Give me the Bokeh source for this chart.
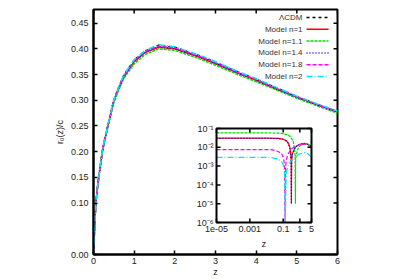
import math
from bokeh.plotting import figure
from bokeh.models import (Range1d, FixedTicker, PrintfTickFormatter, Label, LogScale)
from bokeh.core.properties import value
from bokeh.embed import file_html
from bokeh.resources import INLINE

FONT = "Liberation Sans"
TXT = "#222222"

# ---------------- main panel data ----------------
z_main = [0, 0.03, 0.057, 0.1, 0.15, 0.22, 0.27, 0.35, 0.49, 0.6, 0.74, 1.0, 1.27,
          1.6, 2.0, 2.63, 3.0, 3.61, 4.0, 4.5, 5.0, 5.5, 6.0]
r_lcdm = [0, 0.055, 0.100, 0.132, 0.163, 0.202, 0.222, 0.250, 0.298, 0.322, 0.348, 0.378,
          0.396, 0.407, 0.403, 0.386, 0.374, 0.353, 0.341, 0.324, 0.307, 0.292, 0.278]
r_n1 = [0, 0.055, 0.100, 0.132, 0.162, 0.201, 0.221, 0.248, 0.296, 0.319, 0.345, 0.375,
        0.393, 0.403, 0.400, 0.383, 0.371, 0.351, 0.339, 0.322, 0.306, 0.291, 0.277]
r_n11 = [0, 0.055, 0.100, 0.131, 0.161, 0.200, 0.219, 0.246, 0.293, 0.316, 0.342, 0.371,
         0.389, 0.400, 0.397, 0.380, 0.368, 0.348, 0.336, 0.320, 0.304, 0.289, 0.275]
r_n14 = [0, 0.055, 0.100, 0.132, 0.162, 0.201, 0.221, 0.248, 0.296, 0.320, 0.345, 0.375,
         0.394, 0.404, 0.400, 0.384, 0.372, 0.351, 0.339, 0.322, 0.306, 0.291, 0.277]
r_n18 = [0, 0.055, 0.100, 0.132, 0.163, 0.202, 0.222, 0.249, 0.297, 0.321, 0.347, 0.377,
         0.395, 0.405, 0.402, 0.385, 0.373, 0.352, 0.340, 0.323, 0.307, 0.292, 0.278]
r_n2 = [0, 0.055, 0.100, 0.132, 0.163, 0.202, 0.222, 0.250, 0.298, 0.322, 0.349, 0.379,
        0.397, 0.408, 0.404, 0.387, 0.375, 0.354, 0.342, 0.325, 0.308, 0.293, 0.279]

x_ticks = [0, 1, 2, 3, 4, 5, 6]
y_ticks = [0.0, 0.10, 0.15, 0.20, 0.25, 0.30, 0.35, 0.40, 0.45]

labels = ["\u039bCDM", "Model n=1", "Model n=1.1", "Model n=1.4", "Model n=1.8", "Model n=2"]
colors = ["black", "#ff0000", "#00e000", "#0000ff", "#ff00ff", "#00e8f0"]
dashes = ["3 3", "solid", "3 1", "1 2", "4 2", "6 2 1 2"]

# ---------------- inset data ----------------
z_in_n1 = [1e-5, 1e-4, 1e-3, 0.01, 0.05, 0.1, 0.15, 0.2, 0.25, 0.28, 0.3, 0.31, 0.32, 0.35,
           0.45, 0.6, 1.0, 2.0, 3.0, 5.0]
d_in_n1 = [0.031, 0.031, 0.031, 0.031, 0.030, 0.027, 0.023, 0.017, 0.010, 0.0055, 0.002,
           1e-5, 0.0015, 0.004, 0.0075, 0.011, 0.0145, 0.016, 0.0145, 0.011]
z_in_n11 = [1e-5, 1e-4, 1e-3, 0.01, 0.05, 0.1, 0.2, 0.3, 0.4, 0.48, 0.52, 0.54, 0.56, 0.6,
            0.8, 1.0, 2.0, 3.0, 5.0]
d_in_n11 = [0.058, 0.058, 0.058, 0.058, 0.057, 0.054, 0.045, 0.033, 0.020, 0.009, 0.003,
            1e-5, 0.002, 0.004, 0.009, 0.012, 0.015, 0.0145, 0.0125]
z_in_n14 = [1e-5, 1e-4, 1e-3, 0.01, 0.05, 0.1, 0.15, 0.2, 0.25, 0.28, 0.3, 0.31, 0.32, 0.35,
            0.45, 0.6, 1.0, 2.0, 3.0, 5.0]
d_in_n14 = [0.030, 0.030, 0.030, 0.030, 0.029, 0.026, 0.022, 0.016, 0.0095, 0.005, 0.0018,
            1e-5, 0.0016, 0.0042, 0.0078, 0.0112, 0.0148, 0.0158, 0.0143, 0.0108]
z_in_n18 = [1e-5, 1e-4, 1e-3, 0.01, 0.02, 0.05, 0.08, 0.1, 0.12, 0.13, 0.14, 0.16, 0.2, 0.3,
            0.5, 1.0, 2.0, 3.0, 5.0]
d_in_n18 = [0.0076, 0.0076, 0.0076, 0.0076, 0.0075, 0.006, 0.0045, 0.003, 0.0013, 1e-6,
            0.001, 0.0025, 0.0045, 0.008, 0.011, 0.014, 0.015, 0.0135, 0.0105]
z_in_n2 = [1e-5, 1e-4, 1e-3, 0.01, 0.02, 0.05, 0.08, 0.1, 0.12, 0.135, 0.15, 0.2, 0.3, 0.5,
           1.0, 2.0, 3.0, 5.0]
d_in_n2 = [0.0029, 0.0029, 0.0029, 0.0029, 0.0028, 0.0024, 0.0017, 0.0012, 0.0006, 1e-6,
           0.0004, 0.0011, 0.002, 0.003, 0.0045, 0.0052, 0.0045, 0.003]

inset_x_ticks = [1e-5, 1e-3, 0.1, 1, 5]
inset_x_labels = ["1e-05", "0.001", "0.1", "1", "5"]
inset_y_ticks = [1e-6, 1e-5, 1e-4, 1e-3, 1e-2, 1e-1]
inset_y_labels = ["10\u207b\u2076", "10\u207b\u2075", "10\u207b\u2074", "10\u207b\u00b3",
                  "10\u207b\u00b2", "10\u207b\u00b9"]
inset_xlim = (1e-5, 5)
inset_ylim = (1e-6, 1e-1)

# ---------------- main figure ----------------
YMAX = 0.4765
FW, FH = 244, 245          # frame size in px
p = figure(width=399, height=279, x_range=Range1d(0, 6), y_range=Range1d(0, YMAX),
           output_backend="svg", toolbar_location=None,
           min_border_left=93, min_border_right=62, min_border_top=9, min_border_bottom=25)
p.xgrid.visible = False
p.ygrid.visible = False
p.outline_line_color = "black"
p.outline_line_width = 2
p.border_fill_color = "white"

TICK = 4
sx = 6 / FW          # data units per px (x)
sy = YMAX / FH       # data units per px (y)


def style_axis(ax):
    ax.major_tick_in = TICK
    ax.major_tick_out = 0
    ax.minor_tick_line_color = None
    ax.axis_line_width = 2
    ax.axis_line_color = "black"
    ax.major_tick_line_width = 1.5
    ax.major_label_text_font = FONT
    ax.major_label_text_color = TXT
    ax.major_label_text_font_size = "9px"
    ax.axis_label_text_font = FONT
    ax.axis_label_text_font_style = "normal"
    ax.axis_label_text_font_size = "9px"
    ax.axis_label_text_color = TXT


style_axis(p.xaxis[0])
style_axis(p.yaxis[0])
p.xaxis.ticker = FixedTicker(ticks=x_ticks)
p.xaxis.major_label_standoff = 3
p.xaxis.axis_label = "z"
p.xaxis.axis_label_standoff = 0
p.yaxis.ticker = FixedTicker(ticks=y_ticks)
p.yaxis.formatter = PrintfTickFormatter(format="%.2f")
p.yaxis.major_label_standoff = 5
p.yaxis.axis_label = "r\u2080(z)/c"
p.yaxis.axis_label_standoff = 3

# mirrored ticks on top and right edges
p.segment(x0=x_ticks, y0=[YMAX] * len(x_ticks), x1=x_ticks,
          y1=[YMAX - TICK * sy] * len(x_ticks), line_color="black", line_width=1.5)
p.segment(x0=[6] * len(y_ticks), y0=y_ticks, x1=[6 - TICK * sx] * len(y_ticks), y1=y_ticks,
          line_color="black", line_width=1.5)

series = [r_lcdm, r_n1, r_n11, r_n14, r_n18, r_n2]
for ys, c, d in zip(series, colors, dashes):
    p.line(z_main, ys, line_color=c, line_width=1.5, line_dash=d)

# legend (gnuplot style: text, then sample)
for i, (lab, c, d) in enumerate(zip(labels, colors, dashes)):
    row = 237 - i * 11.8
    p.add_layout(Label(x=209 * sx, y=row * sy, text=lab, text_align="right",
                       text_baseline="middle", text_font=FONT, text_font_size="8px",
                       text_color="#333333"))
    p.segment(x0=[213 * sx], y0=[row * sy], x1=[235 * sx], y1=[row * sy],
              line_color=c, line_width=1.5, line_dash=d)

# ---------------- inset drawn through its own log scales ----------------
# inset frame position inside main frame (px from frame left / bottom)
IX0, IX1 = 123, 218
IY0, IY1 = 32, 126
lx0, lx1 = math.log10(inset_xlim[0]), math.log10(inset_xlim[1])
ly0, ly1 = math.log10(inset_ylim[0]), math.log10(inset_ylim[1])
dpx_x = (lx1 - lx0) / (IX1 - IX0)    # decades per px
dpx_y = (ly1 - ly0) / (IY1 - IY0)
p.extra_x_ranges = {"ix": Range1d(10 ** (lx0 - IX0 * dpx_x), 10 ** (lx1 + (FW - IX1) * dpx_x))}
p.extra_y_ranges = {"iy": Range1d(10 ** (ly0 - IY0 * dpx_y), 10 ** (ly1 + (FH - IY1) * dpx_y))}
p.extra_x_scales = {"ix": LogScale()}
p.extra_y_scales = {"iy": LogScale()}
R = dict(x_range_name="ix", y_range_name="iy")

p.quad(left=[inset_xlim[0]], right=[inset_xlim[1]], bottom=[inset_ylim[0]],
       top=[inset_ylim[1]], fill_color="white", line_color=None, **R)

inset_series = [(z_in_n1, d_in_n1), (z_in_n11, d_in_n11), (z_in_n14, d_in_n14),
                (z_in_n18, d_in_n18), (z_in_n2, d_in_n2)]
for (zs, ds), c, d in zip(inset_series, colors[1:], dashes[1:]):
    p.line(zs, ds, line_color=c, line_width=1.2, line_dash=d, **R)

p.quad(left=[inset_xlim[0]], right=[inset_xlim[1]], bottom=[inset_ylim[0]],
       top=[inset_ylim[1]], fill_color=None, line_color="black", line_width=2, **R)

fx = 10 ** (TICK * dpx_x)
fy = 10 ** (TICK * dpx_y)
n = len(inset_x_ticks)
p.segment(x0=inset_x_ticks, y0=[inset_ylim[0]] * n, x1=inset_x_ticks,
          y1=[inset_ylim[0] * fy] * n, line_color="black", line_width=1.5, **R)
p.segment(x0=inset_x_ticks, y0=[inset_ylim[1]] * n, x1=inset_x_ticks,
          y1=[inset_ylim[1] / fy] * n, line_color="black", line_width=1.5, **R)
m = len(inset_y_ticks)
p.segment(x0=[inset_xlim[0]] * m, y0=inset_y_ticks, x1=[inset_xlim[0] * fx] * m,
          y1=inset_y_ticks, line_color="black", line_width=1.5, **R)
p.segment(x0=[inset_xlim[1]] * m, y0=inset_y_ticks, x1=[inset_xlim[1] / fx] * m,
          y1=inset_y_ticks, line_color="black", line_width=1.5, **R)

p.text(x=inset_x_ticks, y=[inset_ylim[0] / 10 ** (3 * dpx_y)] * n, text=inset_x_labels,
       text_align="center", text_baseline="top", text_font=value(FONT),
       text_font_size="9px", text_color=TXT, **R)
p.text(x=[inset_xlim[0] / 10 ** (3 * dpx_x)] * m, y=inset_y_ticks, text=inset_y_labels,
       text_align="right", text_baseline="middle", text_font=value(FONT),
       text_font_size="9px", text_color=TXT, **R)
p.text(x=[10 ** ((lx0 + lx1) / 2)], y=[inset_ylim[0] / 10 ** (21 * dpx_y)], text=["z"],
       text_align="center", text_baseline="middle", text_font=value(FONT),
       text_font_size="9px", text_color=TXT, **R)

with open("out.html", "w", encoding="utf-8") as f:
    f.write(file_html(p, INLINE))
